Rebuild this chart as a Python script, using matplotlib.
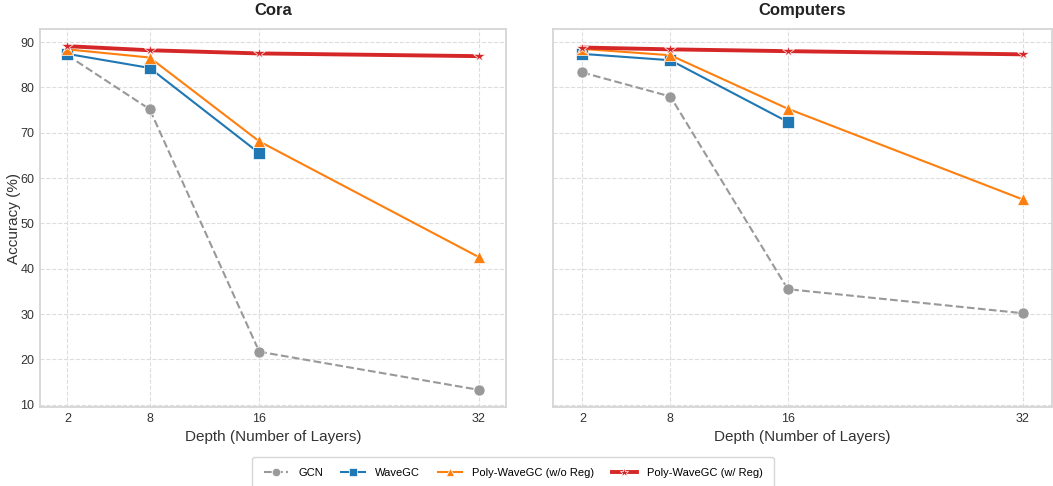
import matplotlib
matplotlib.use("Agg")
import matplotlib.pyplot as plt

plt.rcParams['font.family'] = ['Liberation Sans', 'DejaVu Sans']

depths = [2, 8, 16, 32]
datasets = ["Cora", "Computers"]

gcn_cora = [87.1, 75.2, 21.7, 13.3]
wavegc_cora = [87.4, 84.3, 65.5]
poly_noreg_cora = [88.4, 86.6, 68.1, 42.6]
poly_reg_cora = [89.1, 88.2, 87.5, 86.9]

gcn_comp = [83.3, 78.0, 35.5, 30.2]
wavegc_comp = [87.4, 86.0, 72.4]
poly_noreg_comp = [88.5, 87.1, 75.3, 55.3]
poly_reg_comp = [88.8, 88.4, 88.0, 87.3]

series_names = ["GCN", "WaveGC", "Poly-WaveGC (w/o Reg)", "Poly-WaveGC (w/ Reg)"]
data = {
    "Cora": [gcn_cora, wavegc_cora, poly_noreg_cora, poly_reg_cora],
    "Computers": [gcn_comp, wavegc_comp, poly_noreg_comp, poly_reg_comp],
}

styles = [
    dict(color="#999999", linestyle="--", marker="o", linewidth=1.5, markersize=8),
    dict(color="#1f77b4", linestyle="-", marker="s", linewidth=1.5, markersize=8),
    dict(color="#ff7f0e", linestyle="-", marker="^", linewidth=1.5, markersize=8),
    dict(color="#d62728", linestyle="-", marker="*", linewidth=2.8, markersize=9),
]

W, H = 1053, 486
fig = plt.figure(figsize=(W / 100, H / 100), dpi=100)
ax1 = fig.add_axes([40 / W, 1 - 407 / H, (506 - 40) / W, (407 - 29) / H])
ax2 = fig.add_axes([553 / W, 1 - 407 / H, (1052 - 553) / W, (407 - 29) / H], sharey=ax1)

handles = []
for ax, name in zip([ax1, ax2], datasets):
    ax.set_facecolor("white")
    ax.grid(True, linestyle="--", color="#dddddd", linewidth=0.8)
    ax.set_axisbelow(True)
    for s in ax.spines.values():
        s.set_color("#d5d5d5")
        s.set_linewidth(1.3)
    hs = []
    for vals, st, lab in zip(data[name], styles, series_names):
        h, = ax.plot(depths[:len(vals)], vals, label=lab,
                     markeredgecolor="white", markeredgewidth=0.5, **st)
        hs.append(h)
    handles = hs
    ax.set_xlim(0, 34)
    ax.set_xticks(depths)
    ax.set_title(name, fontsize=12, fontweight="bold", color="#222222", pad=10)
    ax.set_xlabel("Depth (Number of Layers)", fontsize=11, color="#333333")
    ax.tick_params(axis="both", length=0, labelsize=9, colors="#333333", pad=4)

ax1.set_yticks([10, 20, 30, 40, 50, 60, 70, 80, 90])
ax1.set_ylabel("Accuracy (%)", fontsize=11, color="#333333")
ax1.yaxis.set_label_coords(-19 / (506 - 40), 0.5)
ax2.tick_params(axis="y", labelleft=False)

leg = fig.legend(handles, series_names, loc="upper center", ncol=4,
                 bbox_to_anchor=(513 / W, 1 - 451 / H), fontsize=8,
                 frameon=True, handlelength=2.2, handletextpad=0.9,
                 columnspacing=1.6, borderpad=1.0, markerscale=0.75)
leg.get_frame().set_edgecolor("#cccccc")
leg.get_frame().set_linewidth(1.0)

fig.savefig("out.png", dpi=100)
